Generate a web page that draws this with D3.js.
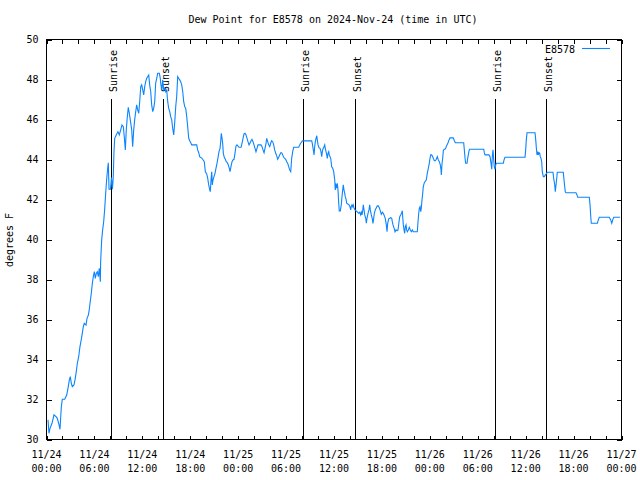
<!DOCTYPE html>
<html><head><meta charset="utf-8">
<script src="https://cdn.jsdelivr.net/npm/d3@7"></script>
<style>
body{margin:0;background:#fff}
svg text{font-family:"DejaVu Sans Mono",monospace;font-size:10px;fill:#000}
</style>
</head><body><svg id="c" width="640" height="480"></svg>
<script>
const title = "Dew Point for E8578 on 2024-Nov-24 (time in UTC)";
const seriesName = "E8578";
const yLabel = "degrees F";
const startUTC = Date.UTC(2024, 10, 24);
const spanHours = 72;

// hours since 2024-11-24 00:00 UTC
const hours = [
0.19,0.31,0.44,0.69,0.94,1.19,1.35,1.57,1.69,1.78,
1.86,1.98,2.28,2.53,2.69,2.86,2.98,3.11,3.23,3.44,
3.57,3.73,3.86,4.03,4.19,4.36,4.48,4.61,4.73,4.95,
5.07,5.24,5.32,5.45,5.61,5.74,5.86,5.99,6.11,6.24,
6.36,6.49,6.61,6.74,6.78,6.91,7.03,7.16,7.28,7.41,
7.53,7.66,7.74,7.83,8.01,8.14,8.26,8.36,8.45,8.54,
8.79,8.95,9.12,9.29,9.45,9.62,9.74,9.87,9.99,10.12,
10.24,10.37,10.49,10.67,10.79,10.92,11.04,11.17,11.29,11.42,
11.55,11.67,11.8,11.92,12.05,12.17,12.3,12.42,12.55,12.67,
12.8,12.92,13.05,13.17,13.3,13.42,13.55,13.67,13.8,13.92,
14.13,14.25,14.3,14.43,14.55,14.68,14.8,14.93,15.05,15.18,
15.3,15.43,15.55,15.68,15.8,15.93,16.05,16.18,16.3,16.43,
16.55,16.68,16.8,16.93,17.06,17.18,17.31,17.43,17.56,17.68,
17.81,17.93,18.06,18.18,18.81,18.93,19.06,19.18,19.47,19.76,
19.89,20.06,20.19,20.31,20.44,20.51,20.6,20.69,20.76,20.85,
20.97,21.1,21.22,21.35,21.48,21.6,21.73,21.81,21.89,21.98,
22.06,22.14,22.26,22.39,22.51,22.64,22.77,22.89,22.98,23.1,
23.23,23.35,23.48,23.6,23.73,23.85,24.1,24.36,24.48,24.61,
24.73,24.86,24.98,25.11,25.23,25.36,25.48,25.61,25.73,25.86,
25.98,26.11,26.23,26.36,26.48,26.86,26.99,27.11,27.24,27.36,
27.49,27.57,27.7,27.82,27.95,28.07,28.2,28.32,28.45,28.57,
28.7,28.83,28.95,29.08,29.2,29.33,29.45,29.58,29.7,29.95,
30.08,30.2,30.33,30.45,30.58,30.7,30.83,30.95,31.58,31.71,
31.83,31.96,32.03,33.21,33.28,33.41,33.5,33.58,33.66,33.75,
33.84,33.91,34.0,34.12,34.25,34.37,34.46,34.54,34.62,34.75,
34.84,34.91,35.0,35.09,35.16,35.25,35.34,35.41,35.59,35.71,
35.84,35.96,36.09,36.16,36.25,36.34,36.41,36.5,36.59,36.66,
36.79,36.91,37.0,37.09,37.16,37.25,37.34,37.41,37.5,37.59,
37.88,38.0,38.09,38.16,38.25,38.34,38.41,38.5,38.63,38.88,
39.09,39.22,39.34,39.42,39.51,39.59,39.67,39.76,39.85,39.97,
40.05,40.13,40.26,40.38,40.47,40.55,40.67,40.8,40.88,40.97,
41.05,41.17,41.3,41.42,41.55,41.67,41.8,41.92,42.05,42.17,
42.3,42.43,42.55,42.64,42.72,42.85,43.1,43.23,43.3,43.39,
43.55,43.64,43.77,43.89,44.02,44.14,44.23,44.35,44.48,44.55,
44.68,44.77,44.85,44.93,45.02,45.1,45.18,45.31,45.43,45.56,
45.68,45.81,45.93,46.43,46.52,46.61,46.68,46.77,46.86,46.93,
47.02,47.11,47.18,47.31,47.56,47.68,47.81,47.93,48.02,48.11,
48.23,48.36,48.43,48.56,48.69,48.81,48.94,49.06,49.19,49.31,
49.4,49.44,49.53,49.61,49.69,49.78,49.9,50.03,50.15,50.28,
50.4,50.53,50.94,51.07,51.19,52.24,52.32,52.41,52.49,52.66,
52.74,52.82,52.91,52.99,54.75,54.82,54.91,55.41,55.54,55.66,
55.75,55.82,55.91,56.0,56.07,56.16,56.25,56.32,57.2,57.29,
57.41,59.92,60.0,60.08,60.17,61.17,61.26,61.34,61.42,61.51,
61.58,61.67,61.76,61.83,61.92,62.01,62.08,62.21,62.33,62.46,
62.58,62.71,63.42,63.51,63.64,63.71,63.8,63.89,63.96,64.71,
64.8,64.89,64.96,65.05,66.3,66.43,66.52,67.97,68.06,68.15,
68.22,68.97,69.1,69.22,70.47,70.65,70.78,70.9,71.03,71.82
];

// dew point, degrees F
const dewpoint = [
30.98,30.31,30.56,30.81,31.23,31.14,31.06,30.73,30.51,31.14,
31.64,32.01,32.01,32.22,32.56,32.98,33.14,32.81,32.64,32.73,
32.98,33.39,33.81,34.14,34.64,35.01,35.31,35.64,35.81,35.72,
36.06,36.22,36.39,36.81,37.31,37.81,38.14,38.39,38.06,38.31,
38.39,38.14,38.56,37.89,38.89,39.98,40.48,40.89,41.48,42.31,
42.98,43.56,43.84,42.51,42.51,43.1,42.51,43.14,44.39,45.06,
45.28,45.39,45.23,45.48,45.73,45.64,45.14,44.48,45.48,46.14,
46.61,46.31,45.98,45.48,44.64,45.48,45.98,46.39,46.73,46.48,
46.31,46.89,47.64,47.73,47.48,47.23,47.64,47.89,48.06,48.14,
48.23,47.73,47.39,46.73,46.39,46.56,46.89,47.81,48.06,48.31,
48.31,48.06,47.81,47.48,47.98,47.48,47.56,47.39,47.48,46.89,
46.56,46.39,46.14,45.98,45.56,45.23,45.81,46.64,47.14,48.14,
48.06,47.98,47.89,47.73,47.39,46.89,46.64,46.56,46.14,45.64,
45.06,44.94,44.84,44.73,44.73,44.48,44.34,44.14,44.06,43.89,
43.39,43.28,43.06,42.73,42.48,42.39,42.98,43.39,42.73,42.98,
43.14,43.31,43.56,43.81,44.11,44.39,44.56,44.89,45.31,45.06,
44.81,44.31,44.11,44.01,43.89,43.84,43.73,43.56,43.39,43.64,
43.89,43.98,44.01,44.31,44.68,44.73,44.61,44.61,44.81,45.06,
45.28,45.31,45.23,45.06,44.89,44.73,44.81,44.94,45.01,44.89,
44.73,44.56,44.39,44.56,44.73,44.73,44.64,44.48,44.34,44.56,
44.81,45.06,44.89,44.73,44.64,44.81,44.94,44.89,44.73,44.48,
44.31,44.18,44.01,44.11,44.23,44.34,44.34,44.23,44.11,44.01,
43.89,43.81,43.64,43.48,43.39,44.06,44.39,44.61,44.61,44.73,
44.81,44.89,44.93,44.93,44.81,44.48,44.23,44.64,44.89,45.06,
45.19,44.98,44.73,44.59,44.56,44.39,44.14,44.39,44.53,44.64,
44.73,44.56,44.39,44.23,44.06,44.31,44.39,44.23,44.06,43.64,
43.56,43.39,42.98,42.48,42.73,42.64,42.81,42.48,41.81,41.43,
41.43,41.73,42.14,42.48,42.73,42.48,42.31,42.14,42.03,41.81,
41.73,41.64,41.48,41.64,41.73,41.64,41.73,41.59,41.48,41.39,
41.31,41.36,41.23,41.36,41.23,41.43,41.73,41.48,41.23,41.06,
40.81,41.06,41.31,41.48,41.73,41.48,41.23,41.03,40.81,41.06,
41.31,41.48,41.59,41.68,41.68,41.59,41.43,41.26,41.36,41.31,
41.19,41.03,40.73,40.39,40.81,41.03,41.09,41.06,40.89,40.73,
40.53,40.39,40.48,40.44,40.48,40.89,41.14,41.23,41.34,41.44,
40.73,40.48,40.31,40.64,40.73,40.48,40.39,40.48,40.61,40.48,
40.39,40.48,40.39,40.39,40.89,41.31,41.56,41.64,41.39,41.56,
41.98,42.31,42.64,42.84,42.98,43.31,43.56,43.81,44.06,44.23,
44.23,44.14,44.06,43.94,43.94,44.01,44.14,43.98,43.89,43.73,
43.48,43.23,43.81,44.06,44.44,44.51,44.51,44.61,44.73,44.84,
44.98,45.08,45.08,44.94,44.84,44.84,44.48,44.06,43.81,43.81,
44.06,44.23,44.44,44.51,44.51,44.34,44.23,44.23,44.14,43.81,
43.51,44.14,44.48,43.98,43.64,43.51,43.73,43.81,43.81,43.98,
44.11,44.11,44.48,44.98,45.34,45.34,44.98,44.56,44.23,44.39,
44.23,44.34,44.31,44.14,44.06,43.89,43.39,43.14,43.14,43.23,
43.28,43.36,43.36,43.06,42.73,42.39,42.73,43.06,43.36,43.36,
42.98,42.64,42.39,42.34,42.34,42.23,42.11,42.11,41.73,41.14,
40.81,40.81,40.98,41.11,41.11,40.98,40.81,40.98,41.11,41.11
];

const sunriseHours = [8.07, 32.15, 56.2];
const sunsetHours = [14.62, 38.67, 62.6];
const yTicks = [30, 32, 34, 36, 38, 40, 42, 44, 46, 48, 50];
const labelStepHours = 6;
const minorStepHours = 2;

const H = 3600 * 1000;
const toDate = h => new Date(startUTC + h * H);
const svg = d3.select("#c");
svg.append("rect").attr("width", 640).attr("height", 480).attr("fill", "#fff");

const L = 46.5, R = 621.5, T = 39.5, B = 439.5;
const x = d3.scaleUtc().domain([toDate(0), toDate(spanHours)]).range([L, R]);
const y = d3.scaleLinear().domain([30, 50]).range([B, T]);

const minorTicks = d3.range(0, spanHours + 0.001, minorStepHours).map(toDate);
const labelTicks = d3.range(0, spanHours + 0.001, labelStepHours).map(toDate);

function styleAxis(g) {
  g.select(".domain").remove();
  g.selectAll(".tick line").attr("stroke", "#000").attr("shape-rendering", "crispEdges");
  g.selectAll(".tick text").attr("fill", "#000").style("font-family", '"DejaVu Sans Mono",monospace').style("font-size", "10px");
}

svg.append("g").attr("transform", `translate(0,${B})`)
  .call(d3.axisBottom(x).tickValues(minorTicks).tickSize(-4).tickFormat(""))
  .call(styleAxis);
svg.append("g").attr("transform", `translate(0,${T})`)
  .call(d3.axisTop(x).tickValues(minorTicks).tickSize(-4).tickFormat(""))
  .call(styleAxis);
svg.append("g").attr("transform", `translate(${L},0)`)
  .call(d3.axisLeft(y).tickValues(yTicks).tickSize(-5).tickPadding(8).tickFormat(d3.format("d")))
  .call(styleAxis);
svg.append("g").attr("transform", `translate(${R},0)`)
  .call(d3.axisRight(y).tickValues(yTicks).tickSize(-5).tickFormat(""))
  .call(styleAxis);

// two-line time labels
const fDate = d3.utcFormat("%m/%d"), fTime = d3.utcFormat("%H:%M");
const lab = svg.append("g").selectAll("text").data(labelTicks).join("text")
  .attr("text-anchor", "middle");
lab.append("tspan").attr("x", d => x(d)).attr("y", 458).text(fDate);
lab.append("tspan").attr("x", d => x(d)).attr("y", 472).text(fTime);

// border
svg.append("rect").attr("x", L).attr("y", T).attr("width", R - L).attr("height", B - T)
  .attr("fill", "none").attr("stroke", "#000").attr("shape-rendering", "crispEdges");

// sunrise / sunset markers
const events = sunriseHours.map(h => ({h, name: "Sunrise"}))
  .concat(sunsetHours.map(h => ({h, name: "Sunset"})));
const lineTop = 99;
svg.append("g").selectAll("line").data(events).join("line")
  .attr("x1", d => Math.round(x(toDate(d.h))) + 0.5).attr("x2", d => Math.round(x(toDate(d.h))) + 0.5)
  .attr("y1", lineTop).attr("y2", B).attr("stroke", "#000").attr("shape-rendering", "crispEdges");
svg.append("g").selectAll("text").data(events).join("text")
  .attr("transform", d => `translate(${Math.round(x(toDate(d.h))) + 6},${lineTop - 7}) rotate(-90)`)
  .attr("text-anchor", "start").text(d => d.name);

// data line
const pts = hours.map((h, i) => [toDate(h), dewpoint[i]]);
svg.append("path").datum(pts)
  .attr("fill", "none").attr("stroke", "#0a84ff").attr("stroke-width", 1.1)
  .attr("stroke-linejoin", "miter")
  .attr("d", d3.line().x(d => x(d[0])).y(d => y(d[1])));

// title
svg.append("text").attr("x", 333).attr("y", 23).attr("text-anchor", "middle").text(title);

// y-axis label
svg.append("text").attr("transform", "translate(13,240) rotate(-90)")
  .attr("text-anchor", "middle").text(yLabel);

// legend
svg.append("text").attr("x", 575).attr("y", 53).attr("text-anchor", "end").text(seriesName);
svg.append("line").attr("x1", 582).attr("x2", 610).attr("y1", 48.5).attr("y2", 48.5)
  .attr("stroke", "#0a84ff").attr("stroke-width", 1.1);

if (hours.length !== dewpoint.length) console.error("length mismatch", hours.length, dewpoint.length);
</script>
</body></html>
